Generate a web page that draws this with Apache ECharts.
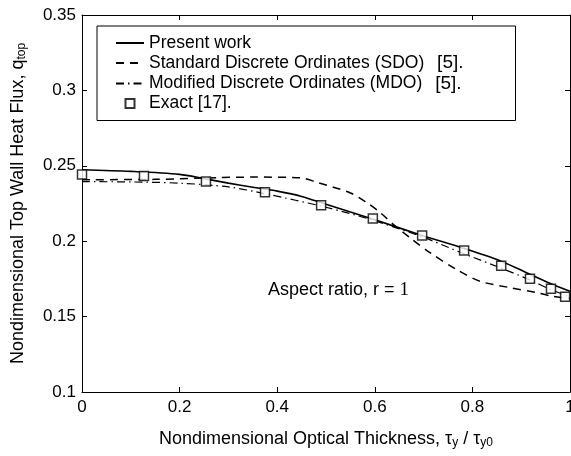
<!DOCTYPE html>
<html>
<head>
<meta charset="utf-8">
<title>Top wall heat flux</title>
<script src="https://cdn.jsdelivr.net/npm/echarts@6/dist/echarts.min.js"></script>
<style>
    html, body { margin: 0; padding: 0; background: #fff; }
    #heat_flux { width: 571px; height: 456px; }
</style>
</head>
<body>
<div id="heat_flux"></div>
<script>

// Chart data
// ------------------------------

var seriesNames = ['Present work', 'Standard Discrete Ordinates (SDO)', 'Modified Discrete Ordinates (MDO)', 'Exact [17].'];
var seriesRefs = ['', '[5].', '[5].', ''];

var xTicks = [0, 0.2, 0.4, 0.6, 0.8, 1];
var yTicks = [0.1, 0.15, 0.2, 0.25, 0.3, 0.35];

// Present work (solid)
var presentX = [0, 0.1, 0.2, 0.25, 0.3, 0.35, 0.4, 0.45, 0.5, 0.6, 0.7, 0.78, 0.86, 0.92, 0.96, 1];
var presentY = [0.2474, 0.2463, 0.2443, 0.2415, 0.2385, 0.2358, 0.2332, 0.2297, 0.2245, 0.2142, 0.2035, 0.1955, 0.1866, 0.1778, 0.172, 0.1668];

// SDO (dashed)
var sdoX = [0, 0.15, 0.283, 0.35, 0.447, 0.48, 0.55, 0.584, 0.611, 0.641, 0.672, 0.713, 0.768, 0.816, 0.877, 0.932, 0.965, 1];
var sdoY = [0.2408, 0.241, 0.2422, 0.2425, 0.242, 0.2392, 0.232, 0.2255, 0.219, 0.2103, 0.2023, 0.1924, 0.1811, 0.1734, 0.1692, 0.1659, 0.1634, 0.162];

// MDO (dash-dot)
var mdoX = [0, 0.1, 0.2, 0.3, 0.375, 0.5, 0.6, 0.7, 0.78, 0.86, 0.92, 0.96, 1];
var mdoY = [0.2395, 0.2393, 0.2385, 0.236, 0.2315, 0.2225, 0.2135, 0.2025, 0.192, 0.182, 0.174, 0.168, 0.163];

// Exact (squares)
var exactX = [0, 0.127, 0.254, 0.375, 0.49, 0.596, 0.697, 0.783, 0.859, 0.918, 0.961, 0.99];
var exactY = [0.2443, 0.2432, 0.2396, 0.2325, 0.2239, 0.215, 0.2037, 0.1938, 0.1838, 0.1751, 0.1685, 0.1632];


// Setup module
// ------------------------------

var HeatFluxChart = function() {

    var font = '"Liberation Sans", Arial, Helvetica, sans-serif';

    var pairs = function(xs, ys) {
        return xs.map(function(x, i) { return [x, ys[i]]; });
    };

    var _heatFluxChart = function() {
        if (typeof echarts == 'undefined') {
            console.warn('Warning - echarts.min.js is not loaded.');
            return;
        }

        var element = document.getElementById('heat_flux');
        if (!element) return;

        var chart = echarts.init(element);

        // Shared axis pieces, MATLAB style box with inward ticks
        var axisLine = { show: true, onZero: false, lineStyle: { color: '#000', width: 1 } };
        var axisTick = { show: true, inside: true, length: 5, lineStyle: { color: '#000', width: 1 } };

        // Legend entries: hide the marker dot on the line samples, square for Exact
        var legendData = seriesNames.map(function(name, i) {
            if (i === 3) {
                return { name: name, icon: 'path://M0,0H10V10H0Z' };
            }
            return { name: name, itemStyle: { opacity: 0 } };
        });

        chart.setOption({
            animation: false,
            textStyle: { fontFamily: font, color: '#000' },

            grid: {
                left: 82,
                right: 1,
                top: 15,
                bottom: 64,
                outerBoundsMode: 'none'
            },

            legend: {
                orient: 'vertical',
                left: 97,
                top: 26,
                data: legendData,
                itemWidth: 28,
                itemHeight: 9,
                itemGap: 1.5,
                symbolKeepAspect: true,
                padding: [8, 52, 8, 18],
                borderColor: '#000',
                borderWidth: 1,
                backgroundColor: '#fff',
                formatter: function(name) {
                    var ref = seriesRefs[seriesNames.indexOf(name)];
                    return ref ? name + ' {ref|' + ref + '}' : name;
                },
                textStyle: {
                    fontSize: 17.5,
                    color: '#000',
                    fontFamily: font,
                    rich: { ref: { fontSize: 19, padding: [0, 0, 0, 8] } }
                },
                inactiveColor: '#000'
            },

            xAxis: [{
                type: 'value',
                min: xTicks[0],
                max: xTicks[xTicks.length - 1],
                interval: 0.2,
                name: 'Nondimensional Optical Thickness, τ{sub|y} / τ{sub|y0}',
                nameLocation: 'middle',
                nameGap: 37,
                nameTextStyle: {
                    fontSize: 18,
                    color: '#000',
                    rich: { sub: { fontSize: 12, verticalAlign: 'bottom', padding: [8, 0, 0, 0] } }
                },
                axisLine: axisLine,
                axisTick: axisTick,
                axisLabel: { fontSize: 17, color: '#000', margin: 7, showMaxLabel: true },
                splitLine: { show: false }
            }, {
                type: 'value',
                position: 'top',
                min: xTicks[0],
                max: xTicks[xTicks.length - 1],
                interval: 0.2,
                axisLine: axisLine,
                axisTick: axisTick,
                axisLabel: { show: false },
                splitLine: { show: false }
            }],

            yAxis: [{
                type: 'value',
                min: yTicks[0],
                max: yTicks[yTicks.length - 1],
                interval: 0.05,
                name: 'Nondimensional Top Wall Heat Flux, q{sub|top}',
                nameLocation: 'middle',
                nameGap: 54,
                nameTextStyle: {
                    fontSize: 18,
                    color: '#000',
                    rich: { sub: { fontSize: 12, verticalAlign: 'bottom', padding: [8, 0, 0, 0] } }
                },
                axisLine: axisLine,
                axisTick: axisTick,
                axisLabel: { fontSize: 17, color: '#000', margin: 6 },
                splitLine: { show: false }
            }, {
                type: 'value',
                position: 'right',
                min: yTicks[0],
                max: yTicks[yTicks.length - 1],
                interval: 0.05,
                axisLine: axisLine,
                axisTick: axisTick,
                axisLabel: { show: false },
                splitLine: { show: false }
            }],

            graphic: [{
                type: 'text',
                left: 268,
                top: 281,
                style: {
                    text: 'Aspect ratio, r = {s|1}',
                    font: '18px ' + font,
                    fill: '#000',
                    rich: { s: { fontFamily: '"Liberation Serif", "Times New Roman", serif', fontSize: 19 } }
                }
            }],

            series: [
                {
                    name: seriesNames[0],
                    type: 'line',
                    data: pairs(presentX, presentY),
                    smooth: 0.3,
                    symbol: 'none',
                    itemStyle: { color: '#000' },
                    lineStyle: { color: '#000', width: 1.6, type: 'solid' },
                    z: 3
                },
                {
                    name: seriesNames[1],
                    type: 'line',
                    data: pairs(sdoX, sdoY),
                    smooth: 0.3,
                    symbol: 'none',
                    itemStyle: { color: '#000' },
                    lineStyle: { color: '#000', width: 1.5, type: [8, 6] },
                    z: 2
                },
                {
                    name: seriesNames[2],
                    type: 'line',
                    data: pairs(mdoX, mdoY),
                    smooth: 0.3,
                    symbol: 'none',
                    itemStyle: { color: '#000' },
                    lineStyle: { color: '#000', width: 1.2, type: [8, 4, 1.5, 4] },
                    z: 2
                },
                {
                    name: seriesNames[3],
                    type: 'scatter',
                    data: pairs(exactX, exactY),
                    symbol: 'rect',
                    symbolSize: 9,
                    itemStyle: { color: '#fff', borderColor: '#000', borderWidth: 1.5 },
                    z: 4
                }
            ]
        });

        window.addEventListener('resize', function() {
            chart.resize();
        });
    };

    return {
        init: function() {
            _heatFluxChart();
        }
    }
}();


// Initialize module
// ------------------------------

document.addEventListener('DOMContentLoaded', function() {
    HeatFluxChart.init();
});
</script>
</body>
</html>
